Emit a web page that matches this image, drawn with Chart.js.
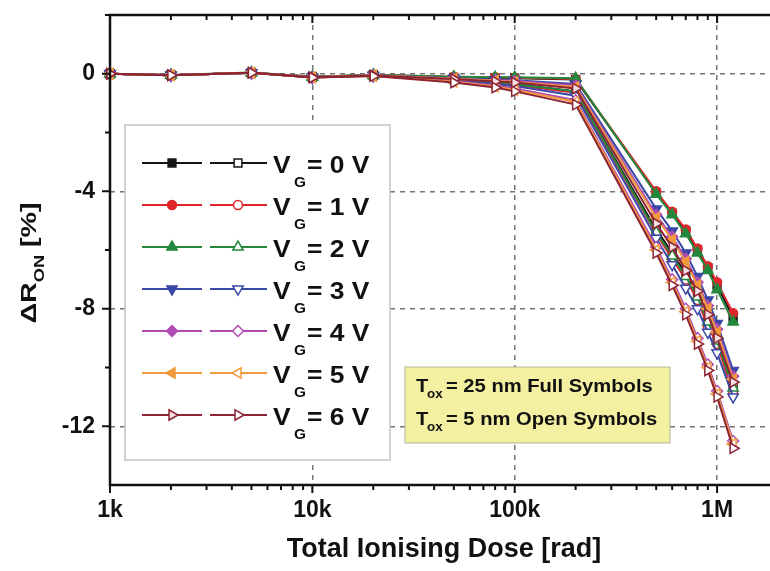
<!DOCTYPE html>
<html>
<head>
<meta charset="utf-8">
<script src="https://cdn.jsdelivr.net/npm/chart.js@4.4.0/dist/chart.umd.min.js"></script>
<style>
  html, body { margin: 0; padding: 0; background: #fff; overflow: hidden; width: 770px; height: 571px; }
  #wrap { position: relative; width: 780px; height: 571px; }
  canvas { display: block; }
</style>
</head>
<body>
<div id="wrap"><canvas id="chart" width="780" height="571"></canvas></div>
<script>
// Total ionising dose steps [rad]
const doses = [1e3, 2e3, 5e3, 1e4, 2e4, 5e4, 8e4, 1e5, 2e5, 5e5, 6e5, 7e5, 8e5, 9e5, 1e6, 1.2e6];

// Gate bias during irradiation
const gateVoltages = [0, 1, 2, 3, 4, 5, 6];

// ΔR_ON [%] for Tox = 25 nm (full symbols)
const tox25_VG0 = [0, -0.05, 0.03, -0.10, -0.04, -0.12, -0.15, -0.15, -0.20, -4.05, -4.75, -5.35, -6.00, -6.60, -7.20, -8.30];
const tox25_VG1 = [0, -0.04, 0.03, -0.10, -0.04, -0.10, -0.12, -0.14, -0.18, -4.00, -4.70, -5.30, -5.95, -6.55, -7.10, -8.15];
const tox25_VG2 = [0, -0.04, 0.04, -0.10, -0.03, -0.10, -0.12, -0.12, -0.15, -4.10, -4.80, -5.45, -6.10, -6.70, -7.35, -8.45];
const tox25_VG3 = [0, -0.05, 0.03, -0.12, -0.05, -0.15, -0.20, -0.22, -0.35, -4.60, -5.35, -6.10, -6.90, -7.70, -8.50, -10.10];
const tox25_VG4 = [0, -0.05, 0.03, -0.12, -0.05, -0.16, -0.22, -0.25, -0.40, -4.80, -5.55, -6.30, -7.10, -7.90, -8.70, -10.30];
const tox25_VG5 = [0, -0.05, 0.03, -0.12, -0.05, -0.17, -0.24, -0.28, -0.45, -4.90, -5.65, -6.40, -7.20, -8.00, -8.80, -10.40];
const tox25_VG6 = [0, -0.05, 0.03, -0.12, -0.06, -0.18, -0.26, -0.30, -0.50, -5.10, -5.90, -6.70, -7.40, -8.20, -9.00, -10.50];

// ΔR_ON [%] for Tox = 5 nm (open symbols)
const tox5_VG0 = [0, -0.05, 0.03, -0.12, -0.06, -0.20, -0.30, -0.35, -0.60, -5.30, -6.10, -6.80, -7.50, -8.30, -9.00, -10.60];
const tox5_VG1 = [0, -0.05, 0.03, -0.12, -0.06, -0.20, -0.32, -0.38, -0.65, -5.45, -6.30, -7.00, -7.70, -8.60, -9.20, -10.90];
const tox5_VG2 = [0, -0.05, 0.03, -0.12, -0.06, -0.20, -0.30, -0.36, -0.60, -5.40, -6.20, -6.90, -7.60, -8.45, -9.10, -10.70];
const tox5_VG3 = [0, -0.05, 0.03, -0.13, -0.07, -0.22, -0.36, -0.42, -0.75, -5.60, -6.50, -7.30, -8.00, -8.80, -9.50, -11.00];
const tox5_VG4 = [0, -0.05, 0.03, -0.13, -0.07, -0.25, -0.40, -0.50, -0.90, -5.90, -7.00, -8.00, -9.00, -9.90, -10.80, -12.50];
const tox5_VG5 = [0, -0.05, 0.03, -0.13, -0.08, -0.27, -0.43, -0.55, -0.95, -6.00, -7.10, -8.10, -9.10, -10.00, -10.90, -12.60];
const tox5_VG6 = [0, -0.05, 0.03, -0.13, -0.08, -0.30, -0.47, -0.60, -1.05, -6.10, -7.20, -8.20, -9.20, -10.10, -11.00, -12.75];

// Axis ticks
const xTickValues = [1e3, 1e4, 1e5, 1e6];
const xTickLabels = ['1k', '10k', '100k', '1M'];
const yTickValues = [-12, -8, -4, 0];

const tox25Series = [tox25_VG0, tox25_VG1, tox25_VG2, tox25_VG3, tox25_VG4, tox25_VG5, tox25_VG6];
const tox5Series  = [tox5_VG0, tox5_VG1, tox5_VG2, tox5_VG3, tox5_VG4, tox5_VG5, tox5_VG6];

// Styling per gate voltage
const colors = ['#151515', '#e0262a', '#23883c', '#3a48a6', '#b04cb4', '#f09a3c', '#8c2434'];
const markerStyles = [
  { style: 'rect', rot: 0, r: 5.5 },
  { style: 'circle', rot: 0, r: 4.5 },
  { style: 'triangle', rot: 0, r: 6 },
  { style: 'triangle', rot: 180, r: 6 },
  { style: 'rectRot', rot: 0, r: 5.5 },
  { style: 'triangle', rot: -90, r: 6 },
  { style: 'triangle', rot: 90, r: 6 }
];
const fullFill = ['#151515', '#e0262a', '#23883c', '#3a48a6', '#b04cb4', '#f09a3c', '#f6dfe2'];
const openFill = '#ffffff';

function toPoints(vals) { return vals.map((v, i) => ({ x: doses[i], y: v })); }

const datasets = [];
gateVoltages.forEach((vg, i) => {
  datasets.push({
    label: 'VG = ' + vg + ' V (Tox 25 nm)',
    data: toPoints(tox25Series[i]),
    borderColor: colors[i], backgroundColor: fullFill[i],
    pointBorderColor: colors[i], pointBackgroundColor: fullFill[i],
    pointStyle: markerStyles[i].style, pointRotation: markerStyles[i].rot,
    pointRadius: markerStyles[i].r, pointBorderWidth: 1.5,
    borderWidth: 2, tension: 0, clip: false
  });
});
gateVoltages.forEach((vg, i) => {
  datasets.push({
    label: 'VG = ' + vg + ' V (Tox 5 nm)',
    data: toPoints(tox5Series[i]),
    borderColor: colors[i], backgroundColor: openFill,
    pointBorderColor: colors[i], pointBackgroundColor: openFill,
    pointStyle: markerStyles[i].style, pointRotation: markerStyles[i].rot,
    pointRadius: markerStyles[i].r, pointBorderWidth: 1.5,
    borderWidth: 2, tension: 0, clip: false
  });
});
// interleave draw order so higher gate voltages end up on top
datasets.forEach((d, idx) => {
  const vgIdx = idx % 7, open = idx >= 7 ? 1 : 0;
  d.order = 100 - (vgIdx * 2 + open);
});

const FONT = "'Liberation Sans', Arial, sans-serif";

function drawMarker(ctx, style, rot, r, x, y, fill, stroke) {
  ctx.save();
  ctx.translate(x, y);
  ctx.rotate(rot * Math.PI / 180);
  ctx.beginPath();
  if (style === 'circle') {
    ctx.arc(0, 0, r, 0, Math.PI * 2);
  } else if (style === 'rect') {
    const s = r * Math.SQRT1_2;
    ctx.rect(-s, -s, 2 * s, 2 * s);
  } else if (style === 'rectRot') {
    ctx.moveTo(0, -r); ctx.lineTo(r, 0); ctx.lineTo(0, r); ctx.lineTo(-r, 0); ctx.closePath();
  } else {
    for (let k = 0; k < 3; k++) {
      const a = k * 2 * Math.PI / 3;
      const px = Math.sin(a) * r, py = -Math.cos(a) * r;
      if (k === 0) ctx.moveTo(px, py); else ctx.lineTo(px, py);
    }
    ctx.closePath();
  }
  ctx.fillStyle = fill; ctx.fill();
  ctx.lineWidth = 1.5; ctx.strokeStyle = stroke; ctx.stroke();
  ctx.restore();
}

// bold text with a slight horizontal widening; returns advance width
function wideText(ctx, text, x, y, size, sx) {
  ctx.save();
  ctx.font = 'bold ' + size + 'px ' + FONT;
  ctx.translate(x, y);
  ctx.scale(sx, 1);
  ctx.fillText(text, 0, 0);
  const w = ctx.measureText(text).width * sx;
  ctx.restore();
  return w;
}
function textWidth(ctx, text, size, sx) {
  ctx.save();
  ctx.font = 'bold ' + size + 'px ' + FONT;
  const w = ctx.measureText(text).width * sx;
  ctx.restore();
  return w;
}

const decor = {
  id: 'decor',
  afterDraw(chart) {
    const { ctx, chartArea: a, scales: { x, y } } = chart;
    ctx.save();

    // axis frame
    ctx.strokeStyle = '#111'; ctx.lineWidth = 2.5;
    ctx.beginPath();
    ctx.moveTo(a.left, a.bottom); ctx.lineTo(a.left, a.top); ctx.lineTo(a.right, a.top);
    ctx.lineTo(a.right, a.bottom); ctx.closePath(); ctx.stroke();

    // x ticks (major + minor), bottom outward and top inward
    ctx.lineWidth = 2;
    for (let e = 3; e <= 6; e++) {
      for (let m = 1; m <= 9; m++) {
        const v = m * Math.pow(10, e);
        if (v > x.max) break;
        const px = x.getPixelForValue(v);
        const len = m === 1 ? 8 : 5;
        ctx.beginPath();
        ctx.moveTo(px, a.bottom); ctx.lineTo(px, a.bottom + len);
        ctx.moveTo(px, a.top); ctx.lineTo(px, a.top + len);
        ctx.stroke();
      }
    }
    // y ticks (major + minor), outward
    for (let v = -12; v <= 2; v += 2) {
      const py = y.getPixelForValue(v);
      const len = (v % 4 === 0) ? 8 : 5;
      ctx.beginPath();
      ctx.moveTo(a.left, py); ctx.lineTo(a.left - len, py);
      ctx.stroke();
    }

    ctx.fillStyle = '#111';
    ctx.textBaseline = 'alphabetic';

    // y-axis title: ΔR_ON [%]
    ctx.save();
    ctx.translate(36, 263);
    ctx.rotate(-Math.PI / 2);
    const S = 1.3;
    const w1 = textWidth(ctx, 'ΔR', 22, S), w2 = textWidth(ctx, 'ON', 14, S), w3 = textWidth(ctx, ' [%]', 22, S);
    let sx = -(w1 + w2 + w3) / 2;
    sx += wideText(ctx, 'ΔR', sx, 0, 22, S);
    sx += wideText(ctx, 'ON', sx, 8, 14, S);
    wideText(ctx, ' [%]', sx, 0, 22, S);
    ctx.restore();

    // legend box
    const lx = 125, ly = 125, lw = 265, lh = 335;
    ctx.fillStyle = '#fff';
    ctx.fillRect(lx, ly, lw, lh);
    ctx.strokeStyle = '#c4c4c4'; ctx.lineWidth = 1.5;
    ctx.strokeRect(lx, ly, lw, lh);
    gateVoltages.forEach((vg, i) => {
      const ry = 163 + i * 42;
      const c = colors[i], ms = markerStyles[i];
      ctx.strokeStyle = c; ctx.lineWidth = 2;
      ctx.beginPath();
      ctx.moveTo(142, ry); ctx.lineTo(202, ry);
      ctx.moveTo(210, ry); ctx.lineTo(267, ry);
      ctx.stroke();
      drawMarker(ctx, ms.style, ms.rot, ms.r, 172, ry, fullFill[i], c);
      drawMarker(ctx, ms.style, ms.rot, ms.r, 238, ry, openFill, c);
      ctx.fillStyle = '#111';
      wideText(ctx, 'V', 273, ry + 10, 24, 1.1);
      wideText(ctx, 'G', 294, ry + 24, 14, 1.1);
      wideText(ctx, '= ' + vg + ' V', 307, ry + 10, 24, 1.1);
    });

    // oxide thickness note
    const nx = 405, ny = 367, nw = 265, nh = 76;
    ctx.fillStyle = '#f4f0a2';
    ctx.fillRect(nx, ny, nw, nh);
    ctx.strokeStyle = '#b8b49a'; ctx.lineWidth = 1;
    ctx.strokeRect(nx, ny, nw, nh);
    const notes = [['= 25 nm Full Symbols', 392], ['= 5 nm Open Symbols', 425]];
    ctx.fillStyle = '#111';
    notes.forEach(([txt, by]) => {
      wideText(ctx, 'T', 416, by, 18, 1.12);
      wideText(ctx, 'ox', 427, by + 6, 12, 1.12);
      wideText(ctx, txt, 446, by, 18, 1.12);
    });

    ctx.restore();
  }
};

new Chart(document.getElementById('chart'), {
  type: 'line',
  data: { datasets },
  plugins: [decor],
  options: {
    responsive: false,
    animation: false,
    events: [],
    layout: { autoPadding: false, padding: { left: 0, top: 15, right: 2, bottom: 0 } },
    plugins: { legend: { display: false }, tooltip: { enabled: false } },
    scales: {
      x: {
        type: 'logarithmic',
        min: 1e3, max: 2e6,
        afterBuildTicks: (s) => { s.ticks = xTickValues.map(v => ({ value: v })); },
        afterFit: (s) => { s.height = 86; s.paddingLeft = 0; s.paddingRight = 0; },
        ticks: {
          autoSkip: false, maxRotation: 0, padding: 12,
          color: '#111', font: { family: FONT, size: 23, weight: 'bold' },
          callback: (v) => xTickLabels[xTickValues.indexOf(v)] ?? ''
        },
        grid: { color: '#747474', lineWidth: 1.5, drawTicks: false },
        border: { display: false, dash: [5, 5] },
        title: {
          display: true, text: 'Total Ionising Dose [rad]', color: '#111',
          font: { family: FONT, size: 27, weight: 'bold' },
          padding: { top: 0, bottom: 5 }
        }
      },
      y: {
        type: 'linear',
        min: -14, max: 2,
        afterBuildTicks: (s) => { s.ticks = yTickValues.map(v => ({ value: v })); },
        afterFit: (s) => { s.width = 110; s.paddingTop = 0; s.paddingBottom = 0; },
        ticks: {
          autoSkip: false, padding: 15,
          color: '#111', font: { family: FONT, size: 23, weight: 'bold' },
          callback: (v) => String(v)
        },
        grid: { color: '#747474', lineWidth: 1.5, drawTicks: false },
        border: { display: false, dash: [5, 5] }
      }
    }
  }
});
</script>
</body>
</html>
